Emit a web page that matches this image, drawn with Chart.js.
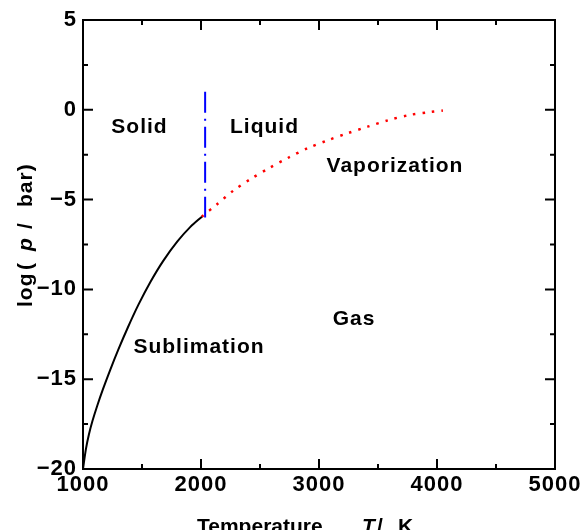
<!DOCTYPE html>
<html><head><meta charset="utf-8">
<script src="https://cdn.jsdelivr.net/npm/chart.js@4/dist/chart.umd.min.js"></script>
<style>html,body{margin:0;padding:0;background:#fff}#wrap{width:587px;height:530px;position:relative}</style>
</head><body><div id="wrap"><canvas id="c"></canvas></div>
<script>
// Sublimation curve (T in K, log p in bar)
const subT = [1000, 1025, 1050, 1080, 1120, 1170, 1230, 1300, 1380, 1470, 1570, 1680, 1800, 1910, 2008];
const subP = [-20, -18.88, -18.08, -17.33, -16.49, -15.54, -14.49, -13.34, -12.12, -10.85, -9.6, -8.41, -7.33, -6.52, -5.95];
// Vaporization curve
const vapT = [2006, 2138, 2274, 2421, 2579, 2740, 2903, 3073, 3240, 3412, 3587, 3765, 3946, 4050];
const vapP = [-5.95, -5.25, -4.5, -3.85, -3.24, -2.67, -2.14, -1.7, -1.31, -0.94, -0.58, -0.29, -0.12, -0.04];
// Melting line
const meltT = [2035, 2035];
const meltP = [1, -6];
// Ticks
const xMajorTicks = [1000, 2000, 3000, 4000, 5000];
const xMinorTicks = [1500, 2500, 3500, 4500];
const yMajorTicks = [5, 0, -5, -10, -15, -20];
const yMinorTicks = [2.5, -2.5, -7.5, -12.5, -17.5];
// Region labels
const regionNames = ['Solid', 'Liquid', 'Vaporization', 'Gas', 'Sublimation'];
const regionT = [1479, 2538, 3644, 3297, 1983];
const regionP = [-0.85, -0.85, -3.07, -11.56, -13.12];
// Axis titles
const xTitleParts = ['Temperature,', 'T', '/', 'K'];
const yTitleParts = ['log', '(', 'p', '/', 'bar)'];

const FONT = '"Liberation Sans", Arial, sans-serif';
const pts = (xs, ys) => xs.map((x, i) => ({x: x, y: ys[i]}));

const framePlugin = {
  id: 'frame',
  beforeDraw(chart) { chart.ctx.letterSpacing = '1px'; },
  afterDraw(chart) {
    const ctx = chart.ctx, a = chart.chartArea;
    const xs = chart.scales.x, ys = chart.scales.y;
    ctx.save();
    ctx.strokeStyle = '#000';
    ctx.lineWidth = 2;
    ctx.strokeRect(a.left, a.top, a.right - a.left, a.bottom - a.top);
    const tick = (v, len, isX) => {
      ctx.beginPath();
      if (isX) {
        const p = xs.getPixelForValue(v);
        ctx.moveTo(p, a.bottom); ctx.lineTo(p, a.bottom - len);
        ctx.moveTo(p, a.top); ctx.lineTo(p, a.top + len);
      } else {
        const p = ys.getPixelForValue(v);
        ctx.moveTo(a.left, p); ctx.lineTo(a.left + len, p);
        ctx.moveTo(a.right, p); ctx.lineTo(a.right - len, p);
      }
      ctx.stroke();
    };
    xMajorTicks.forEach(v => tick(v, 10, true));
    xMinorTicks.forEach(v => tick(v, 5, true));
    yMajorTicks.forEach(v => tick(v, 10, false));
    yMinorTicks.forEach(v => tick(v, 5, false));

    // region labels
    ctx.fillStyle = '#000';
    ctx.letterSpacing = '1px';
    ctx.font = 'bold 21px ' + FONT;
    ctx.textAlign = 'center';
    ctx.textBaseline = 'alphabetic';
    regionNames.forEach((t, i) => {
      ctx.fillText(t, xs.getPixelForValue(regionT[i]), ys.getPixelForValue(regionP[i]) + 7.5);
    });

    // x title
    ctx.textAlign = 'left';
    ctx.letterSpacing = '0px';
    const cx = (a.left + a.right) / 2;
    const x0 = cx - 122, base = 533;
    const xOff = [0, 165, 180, 201];
    xTitleParts.forEach((t, i) => {
      ctx.font = (i === 1 ? 'italic bold 21px ' : 'bold 21px ') + FONT;
      ctx.fillText(t, x0 + xOff[i], base);
    });

    // y title (rotated)
    ctx.translate(32, 307);
    ctx.rotate(-Math.PI / 2);
    ctx.letterSpacing = '1px';
    const yOff = [0, 37, 56, 78, 100];
    yTitleParts.forEach((t, i) => {
      ctx.font = (i === 2 ? 'italic bold 21px ' : 'bold 21px ') + FONT;
      ctx.fillText(t, yOff[i], 0);
    });
    ctx.restore();
  }
};

new Chart(document.getElementById('c'), {
  type: 'scatter',
  data: {
    datasets: [
      {label: 'Sublimation', data: pts(subT, subP), showLine: true, borderColor: '#000', borderWidth: 2,
       pointRadius: 0, tension: 0.3, fill: false},
      {label: 'Vaporization', data: pts(vapT, vapP), showLine: true, borderColor: '#ff0000', borderWidth: 2.5,
       borderDash: [2.5, 7], pointRadius: 0, tension: 0.3, fill: false},
      {label: 'Melting', data: pts(meltT, meltP), showLine: true, borderColor: '#0000ff', borderWidth: 2,
       borderDash: [21, 6, 2, 6], pointRadius: 0, fill: false}
    ]
  },
  options: {
    responsive: true,
    maintainAspectRatio: false,
    animation: false,
    events: [],
    layout: {padding: {left: 0, right: 32, top: 20, bottom: 0}},
    plugins: {legend: {display: false}, tooltip: {enabled: false}},
    scales: {
      x: {
        type: 'linear', min: 1000, max: 5000,
        grid: {display: false, drawTicks: false}, border: {display: false},
        afterBuildTicks: s => { s.ticks = xMajorTicks.map(v => ({value: v})); },
        afterFit: s => { s.height = 61; },
        ticks: {color: '#000', padding: 3, maxRotation: 0, font: {family: FONT, weight: 'bold', size: 22},
                callback: v => String(v)}
      },
      y: {
        type: 'linear', min: -20, max: 5,
        grid: {display: false, drawTicks: false}, border: {display: false},
        afterBuildTicks: s => { s.ticks = yMajorTicks.map(v => ({value: v})); },
        afterFit: s => { s.width = 83; },
        ticks: {color: '#000', padding: 6, font: {family: FONT, weight: 'bold', size: 22},
                callback: v => v < 0 ? '\u2212' + Math.abs(v) : String(v)}
      }
    }
  },
  plugins: [framePlugin]
});
</script>
</body></html>
